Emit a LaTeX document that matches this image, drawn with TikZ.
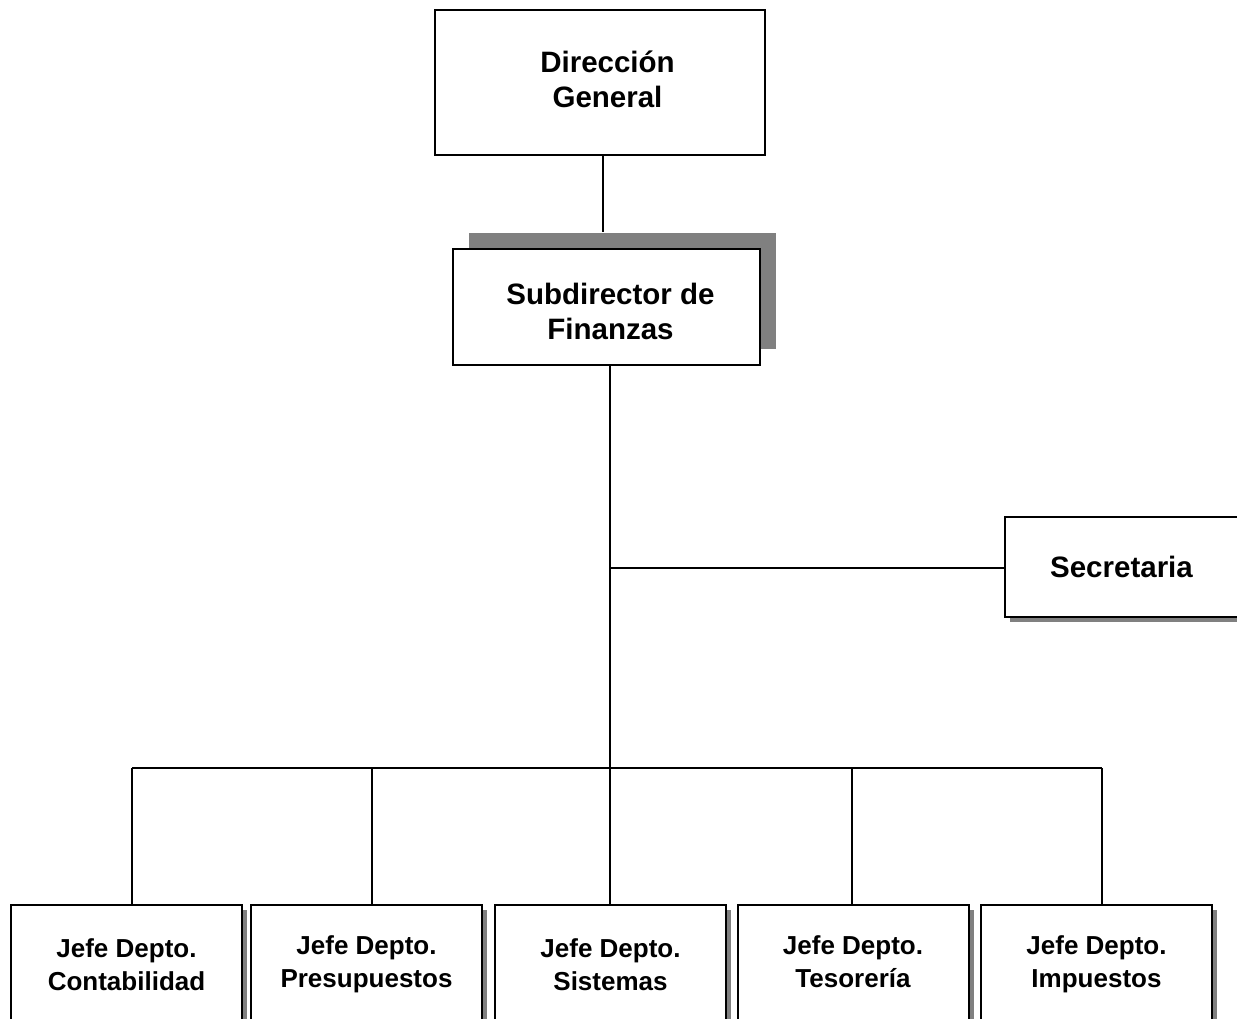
\documentclass[tikz,border=0pt]{standalone}
\usepackage{fontspec}
\setmainfont{Liberation Sans}
\usetikzlibrary{shadows}
\begin{document}
\begin{tikzpicture}[x=1pt,y=-1pt,
  box/.style={draw=black, line width=2pt, fill=white, rectangle, inner sep=0pt,
    align=center, font=\fontsize{29.5}{35}\selectfont\bfseries},
  dept/.style={box, font=\fontsize{26}{33}\selectfont\bfseries,
    minimum width=231pt, minimum height=119pt,
    general shadow={fill=black!50, shadow xshift=5pt, shadow yshift=-5pt}},
  link/.style={draw=black, line width=1.6pt}]
\useasboundingbox (0,0) rectangle (1237,1018);
\clip (0,0) rectangle (1237,1018);
\fill[white] (0,0) rectangle (1237,1018);

% top of the hierarchy
\node[box, minimum width=330pt, minimum height=145pt] (dir) at (600,82.5)
  {\hspace*{15pt}\raisebox{3pt}{\begin{tabular}{@{}c@{}}Dirección\\General\end{tabular}}};
\node[box, minimum width=307pt, minimum height=116pt,
  general shadow={fill=black!50, shadow xshift=16pt, shadow yshift=16pt},
  label={[name=subtext, align=center, inner sep=0pt, xshift=4pt, yshift=-4pt,
    font=\fontsize{29.5}{35}\selectfont\bfseries]center:Subdirector de\\Finanzas}]
  (sub) at (606.5,307) {};
\node[box, minimum width=260pt, minimum height=100pt,
  general shadow={fill=black!50, shadow xshift=5pt, shadow yshift=-5pt}]
  (sec) at (1135,567) {\hspace*{-27pt}Secretaria};

% department heads
\node[dept] (j1) at (126.5,964.5) {Jefe Depto.\\Contabilidad};
\node[dept] (j2) at (366.5,964.5) {\raisebox{4pt}{\begin{tabular}{@{}c@{}}Jefe Depto.\\Presupuestos\end{tabular}}};
\node[dept] (j3) at (610.5,964.5) {Jefe Depto.\\Sistemas};
\node[dept] (j4) at (853,964.5) {\raisebox{3pt}{\begin{tabular}{@{}c@{}}Jefe Depto.\\Tesorería\end{tabular}}};
\node[dept] (j5) at (1096.5,964.5) {Jefe Depto.\\Impuestos};

% junction points
\coordinate (hub) at (610,568);
\coordinate (d1) at (132,768);
\coordinate (d2) at (372,768);
\coordinate (d3) at (610,768);
\coordinate (d4) at (852,768);
\coordinate (d5) at (1102,768);

% connectors
\draw[link] ([xshift=3pt]dir.south) -- ([xshift=3pt,yshift=16pt]dir.south |- sub.north);
\draw[link] (hub |- sub.south) -- (d3);
\draw[link] (hub) -- (hub -| sec.west);
\draw[link] (d1) -- (d5);
\foreach \k in {1,...,5} {
  \draw[link] (d\k) -- (d\k |- j\k.north);
}
\end{tikzpicture}
\end{document}
